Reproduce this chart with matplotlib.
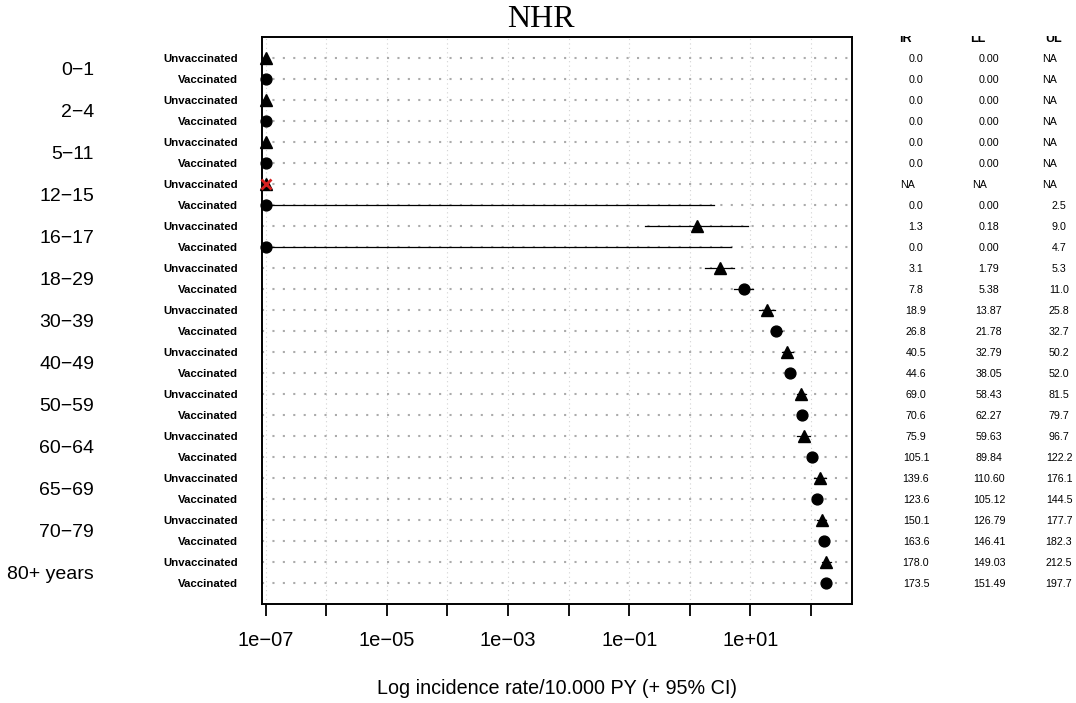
import numpy as np
import matplotlib
matplotlib.use("Agg")
import matplotlib.pyplot as plt
from matplotlib import transforms

plt.rcParams['font.family'] = ['Liberation Sans', 'DejaVu Sans']

# age groups, each one has an unvaccinated and a vaccinated row (top to bottom)
age_groups = ['0−1', '2−4', '5−11', '12−15', '16−17', '18−29', '30−39',
              '40−49', '50−59', '60−64', '65−69', '70−79', '80+ years']
status = ['Unvaccinated', 'Vaccinated']

# incidence rate per 10.000 PY with 95% CI, NaN = not available
ir = [0.0, 0.0, 0.0, 0.0, 0.0, 0.0, np.nan, 0.0, 1.3, 0.0,
      3.1, 7.8, 18.9, 26.8, 40.5, 44.6, 69.0, 70.6, 75.9, 105.1,
      139.6, 123.6, 150.1, 163.6, 178.0, 173.5]
ll = [0.0, 0.0, 0.0, 0.0, 0.0, 0.0, np.nan, 0.0, 0.18, 0.0,
      1.79, 5.38, 13.87, 21.78, 32.79, 38.05, 58.43, 62.27, 59.63, 89.84,
      110.60, 105.12, 126.79, 146.41, 149.03, 151.49]
ul = [np.nan, np.nan, np.nan, np.nan, np.nan, np.nan, np.nan, 2.5, 9.0, 4.7,
      5.3, 11.0, 25.8, 32.7, 50.2, 52.0, 81.5, 79.7, 96.7, 122.2,
      176.1, 144.5, 177.7, 182.3, 212.5, 197.7]

tick_values = [1e-7, 1e-6, 1e-5, 1e-4, 1e-3, 1e-2, 1e-1, 1e0, 1e1, 1e2]
tick_labels = ['1e−07', '', '1e−05', '', '1e−03', '', '1e−01', '', '1e+01', '']

FLOOR = 1e-7  # zero rates are drawn at the left end of the log axis

ir = np.array(ir)
ll = np.array(ll)
ul = np.array(ul)
n = len(ir)
ypos = np.arange(n, 0, -1)
labels = [status[i % 2] for i in range(n)]

fig = plt.figure(figsize=(10.76, 7.03), dpi=100)
ax = fig.add_axes([262 / 1076, 1 - 604 / 703, 590 / 1076, 567 / 703])
ax.set_xscale('log')
ax.set_xlim(10 ** -7.061, 10 ** 2.675)
ax.set_ylim(0, n + 1)

# grid
for t in tick_values:
    ax.axvline(t, color='#d2d2d2', lw=0.8, ls=(0, (1, 3)), zorder=0)
for y in ypos:
    ax.axhline(y, color='#ababab', lw=1.5, ls=(0, (1, 4.0)), zorder=0)

# confidence intervals
for y, lo, hi in zip(ypos, ll, ul):
    if np.isnan(hi):
        continue
    ax.plot([max(lo, FLOOR), hi], [y, y], color='black', lw=0.9, zorder=2)

# point estimates
for i, (y, v) in enumerate(zip(ypos, ir)):
    marker = '^' if i % 2 == 0 else 'o'
    size = 8.5 if marker == '^' else 7.8
    x = FLOOR if np.isnan(v) else max(v, FLOOR)
    ax.plot(x, y, marker=marker, ms=size, color='black', ls='none',
            clip_on=False, zorder=3)
    if np.isnan(v):
        ax.plot(x, y, marker='x', ms=6.5, mew=2, color='#d62020', ls='none',
                clip_on=False, zorder=4)

ax.set_yticks(ypos)
ax.set_yticklabels(labels, fontsize=8.2, fontweight='bold')
ax.tick_params(axis='y', length=0, pad=17)
ax.set_xticks(tick_values)
ax.set_xticklabels(tick_labels, fontsize=14.5)
ax.xaxis.set_minor_locator(matplotlib.ticker.NullLocator())
ax.tick_params(axis='x', length=8.6, width=1.3, pad=11)
for sp in ax.spines.values():
    sp.set_linewidth(1.4)

# age group labels on the left
trans_left = transforms.blended_transform_factory(fig.transFigure, ax.transData)
for k, g in enumerate(age_groups):
    yc = (ypos[2 * k] + ypos[2 * k + 1]) / 2
    fig.text(94 / 1076, yc, g, transform=trans_left, ha='right',
             va='center_baseline', fontsize=14)

# table on the right, header row is cut at the top edge
col_x = [916 / 1076, 989 / 1076, 1059 / 1076]
na_shift = [-8 / 1076, -9 / 1076, -9 / 1076]
head_x = [905 / 1076, 978 / 1076, 1054 / 1076]
headers = ['IR', 'LL', 'UL']
clip = transforms.TransformedBbox(
    transforms.Bbox([[0, 0], [1, 1 - 36 / 703]]), fig.transFigure)
for hx, h in zip(head_x, headers):
    t = fig.text(hx, n + 1, h, transform=trans_left, ha='center',
                 va='center_baseline', fontsize=9, fontweight='bold')
    t.set_clip_box(clip)
    t.set_clip_on(True)

for y, a, b, c in zip(ypos, ir, ll, ul):
    for cx, dx, v, d in zip(col_x, na_shift, (a, b, c), (1, 2, 1)):
        if np.isnan(v):
            s, x = 'NA', cx + dx
        else:
            s, x = f'{v:.{d}f}', cx
        fig.text(x, y, s, transform=trans_left, ha='center',
                 va='center_baseline', fontsize=7.7)

fig.text(541 / 1076, 1 - 27 / 703, 'NHR', family='Liberation Serif',
         fontsize=23, ha='center', va='baseline')
fig.text(557 / 1076, 1 - 687 / 703, 'Log incidence rate/10.000 PY (+ 95% CI)',
         ha='center', va='center_baseline', fontsize=14.2)

fig.savefig('out.png', dpi=100)
